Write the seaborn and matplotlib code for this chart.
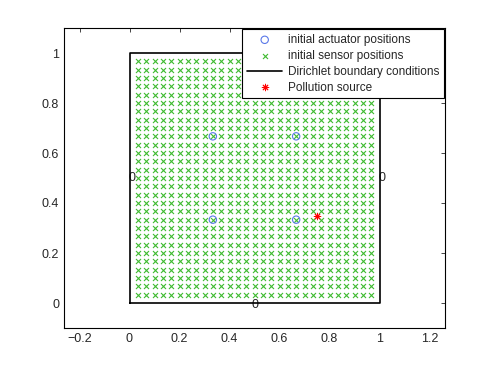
import numpy as np
import pandas as pd
import seaborn as sns
import matplotlib
matplotlib.use("Agg")
import matplotlib.pyplot as plt

# sensor grid: 29 x 29 points at k/30
sensor_ticks = [k / 30 for k in range(1, 30)]
actuator_x = [1/3, 1/3, 2/3, 2/3]
actuator_y = [1/3, 2/3, 1/3, 2/3]
source_x = [0.75]
source_y = [0.35]
boundary_x = [0, 1, 1, 0, 0]
boundary_y = [0, 0, 1, 1, 0]
bc_labels = ["0", "0", "0", "0"]
bc_x = [0.5, 1.01, 0.5, 0.01]
bc_y = [-0.01, 0.5, 1.0, 0.5]

sx, sy = np.meshgrid(sensor_ticks, sensor_ticks)
sensors = pd.DataFrame({"x": sx.ravel(), "y": sy.ravel()})
actuators = pd.DataFrame({"x": actuator_x, "y": actuator_y})
source = pd.DataFrame({"x": source_x, "y": source_y})
boundary = pd.DataFrame({"x": boundary_x, "y": boundary_y})

sns.set_style("white")
plt.rcParams["font.family"] = ["Liberation Sans", "DejaVu Sans"]
plt.rcParams["xtick.direction"] = "in"
plt.rcParams["ytick.direction"] = "in"

fig = plt.figure(figsize=(4.91, 3.69), dpi=100)
ax = fig.add_axes([64/491, 1 - 328/369, 381/491, 300/369])

sns.scatterplot(data=actuators, x="x", y="y", ax=ax, marker="o", s=28,
                facecolor="none", edgecolor="#5a78e8", linewidth=0.8,
                label="initial actuator positions", zorder=3)
sns.scatterplot(data=sensors, x="x", y="y", ax=ax, marker="x", s=13,
                color="#3fbb30", linewidth=0.8,
                label="initial sensor positions", zorder=2)
sns.lineplot(data=boundary, x="x", y="y", ax=ax, sort=False, estimator=None,
             color="black", linewidth=1.2,
             label="Dirichlet boundary conditions", zorder=4)
sns.scatterplot(data=source, x="x", y="y", ax=ax, marker=(8, 2, 0), s=22,
                color="red", edgecolor="red", linewidth=0.7,
                label="Pollution source", zorder=5)

# boundary values
for t, x, y in zip(bc_labels, bc_x, bc_y):
    ax.text(x, y, t, ha="center", va="center", fontsize=9, zorder=1)

ax.set_xlim(-0.262, 1.262)
ax.set_ylim(-0.1, 1.1)
ax.set_xticks([-0.2, 0, 0.2, 0.4, 0.6, 0.8, 1, 1.2])
ax.set_xticklabels(["\u22120.2", "0", "0.2", "0.4", "0.6", "0.8", "1", "1.2"])
ax.set_yticks([0, 0.2, 0.4, 0.6, 0.8, 1])
ax.set_yticklabels(["0", "0.2", "0.4", "0.6", "0.8", "1"])
ax.set_xlabel("")
ax.set_ylabel("")
ax.tick_params(labelsize=9, length=3, width=0.6, top=True, right=True)
for sp in ax.spines.values():
    sp.set_linewidth(0.8)
    sp.set_color("black")

leg = ax.legend(loc="upper right", fontsize=8.5, frameon=True, fancybox=False,
                framealpha=1, borderaxespad=0.1, handlelength=3.0,
                handletextpad=0.45, labelspacing=0.33, borderpad=0.4,
                scatterpoints=1)
leg.get_frame().set_edgecolor("black")
leg.get_frame().set_linewidth(0.8)
leg.set_zorder(10)

fig.savefig("out.png", dpi=100)
